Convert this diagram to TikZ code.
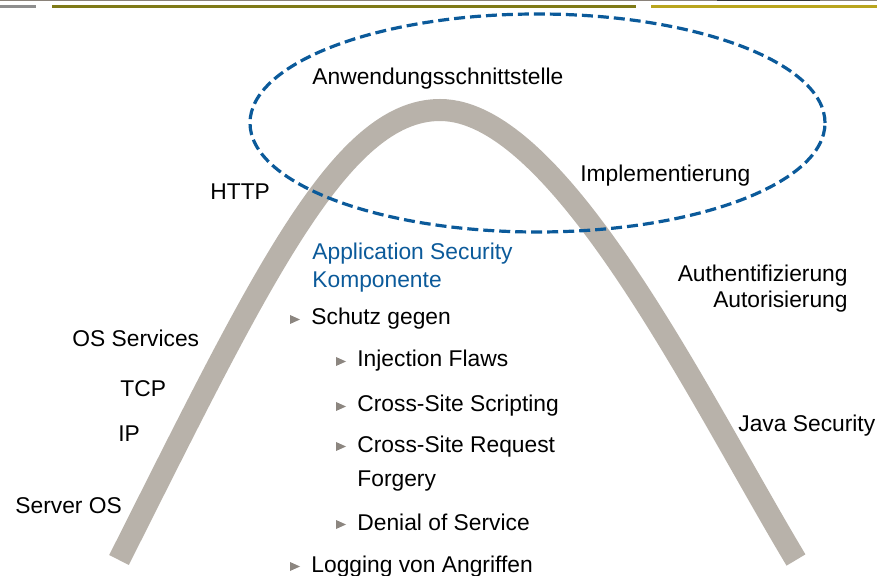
\documentclass[tikz,border=0pt]{standalone}
\usepackage{fontspec}
\setmainfont{Liberation Sans}
\usetikzlibrary{positioning}

\definecolor{archgray}{HTML}{B8B2AA}
\definecolor{ovalblue}{HTML}{0B5A9A}
\definecolor{bulletgray}{HTML}{8C8680}
\definecolor{topbrown}{HTML}{8A8279}
\definecolor{stripgray}{HTML}{8E8E8E}
\definecolor{stripolive}{HTML}{7F7A18}
\definecolor{stripgold}{HTML}{B9A51E}

\tikzset{
  every label/.style={font=\fontsize{11.4}{14}\selectfont, inner sep=0pt},
  layer/.style={every label/.try, anchor=base west},
  layer right/.style={every label/.try, anchor=base east},
  item/.style={every label/.try, anchor=base west},
  heading/.style={every label/.try, anchor=base west, text=ovalblue}
}

\begin{document}
\begin{tikzpicture}[x=0.5pt, y=-0.5pt]
\useasboundingbox (0,0) rectangle (877,576);

% top strips
\fill[topbrown] (0,0) rectangle (877,1.5);
\fill[black!80] (717,0) rectangle (820,1.2);
\fill[stripgray] (0,5.5) rectangle (36,8);
\fill[stripolive] (52,5.5) rectangle (636,8);
\fill[stripgold] (651,5.5) rectangle (877,8);

% the arch
\draw[archgray, line width=11pt]
  (119,560) .. controls (260,280) and (340,110) .. (440,110)
            .. controls (560,110) and (700,400) .. (796,560);

% dashed oval
\draw[ovalblue, line width=1.6pt, dash pattern=on 5.5pt off 2.5pt]
  (537.5,123) ellipse [x radius=143.75pt, y radius=54.5pt];

% layers along the arch
\foreach \n/\l/\x/\y in {api/Anwendungsschnittstelle/312/85,
                         http/HTTP/210/200,
                         impl/Implementierung/580/182,
                         ossrv/OS Services/72/347,
                         tcp/TCP/120/397,
                         ip/IP/118/442,
                         srvos/Server OS/15/513,
                         java/Java Security/738/432}
  \node[layer] (\n) at (\x,\y) {\l};

\foreach \n/\l/\y in {authn/Authentifizierung/282, authz/Autorisierung/308}
  \node[layer right] (\n) at (848,\y) {\l};

% component
\node[heading] (appsec) at (312,260) {Application Security};
\node[heading] (komp) at (312,288) {Komponente};

\foreach \n/\l/\y in {schutz/Schutz gegen/325, logging/Logging von Angriffen/572}
{
  \node[item] (\n) at (311,\y) {\l};
  \fill[bulletgray] (290,\y-1) -- ++(0,-9) -- ++(10,4.5) -- cycle;
}

\foreach \n/\l/\y in {inject/Injection Flaws/367,
                      xss/Cross-Site Scripting/412,
                      csrf/Cross-Site Request/452,
                      dos/Denial of Service/530}
{
  \node[item] (\n) at (357,\y) {\l};
  \fill[bulletgray] (336,\y-1) -- ++(0,-9) -- ++(10,4.5) -- cycle;
}
\node[item] (forgery) at (357,487) {Forgery};
\end{tikzpicture}
\end{document}
